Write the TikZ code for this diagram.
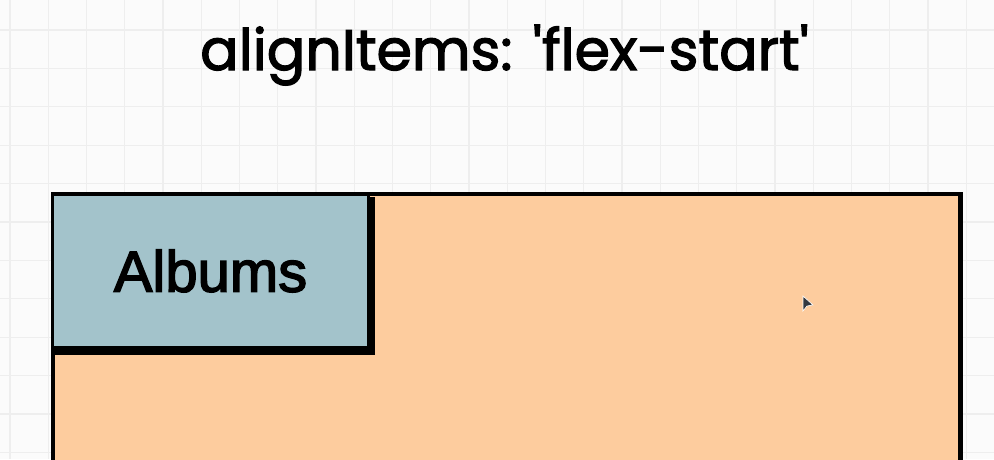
\documentclass[tikz,border=0pt]{standalone}
\usepackage{fontspec}
\setmainfont{Liberation Sans}[BoldFont={Liberation Sans}, BoldFeatures={FakeBold=2.5}]
\newfontfamily\titlefont{Poppins}[BoldFont={Poppins}, BoldFeatures={FakeBold=2.2}]
\definecolor{bgcol}{HTML}{FBFBFB}
\definecolor{gridcol}{HTML}{EEEEEE}
\definecolor{orangefill}{HTML}{FDCC9E}
\definecolor{bluefill}{HTML}{A3C3CB}
\definecolor{cursorcol}{HTML}{333840}
\tikzset{
  gridline/.style={draw=gridcol, line width=1.2pt},
  titletext/.style={font=\titlefont\bfseries\fontsize{57}{62}\selectfont, inner sep=0pt, anchor=base},
  container/.style={draw=black, line width=3.5pt, fill=orangefill, anchor=north west, inner sep=0pt},
  itembox/.style={draw=black, line width=3pt, fill=bluefill, anchor=north west, inner sep=0pt,
     font=\bfseries\fontsize{58}{64}\selectfont},
  shadowbox/.style={fill=black, draw=none, anchor=north west, inner sep=0pt},
}
\begin{document}
\begin{tikzpicture}[x=1pt,y=-1pt]
\useasboundingbox (0,0) rectangle (994,459);
\fill[bgcol] (0,0) rectangle (994,459);
\foreach \i in {0,...,25} \draw[gridline] ({10+38.25*\i},0) -- ({10+38.25*\i},459);
\foreach \j in {0,...,11} \draw[gridline] (0,{30+38.4*\j}) -- (994,{30+38.4*\j});
\node[titletext] (title) at (504.5,70) {alignItems: 'flex-start'};
% outer container with slight right shadow
\node[shadowbox, minimum width=911pt, minimum height=320pt] (outershadow) at (52,192) {};
\node[container, minimum width=907pt, minimum height=320pt] (outer) at (51,192) {};
% Albums item
\node[shadowbox, minimum width=320pt, minimum height=158pt] (albumshadow) at (55,197) {};
\node[itembox, minimum width=316pt, minimum height=153pt] (albums) at (51,193) {Albums};
% mouse cursor
\fill[cursorcol, draw=white, line width=0.6pt] (803,296) -- (803,311) -- (807,306) -- (813,305) -- cycle;
\end{tikzpicture}
\end{document}
